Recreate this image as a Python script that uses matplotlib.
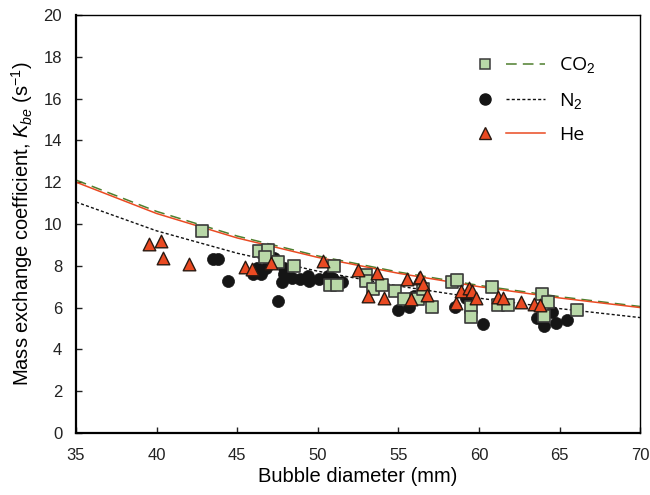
import matplotlib
matplotlib.use("Agg")
import matplotlib.pyplot as plt
from matplotlib.lines import Line2D
from matplotlib.legend_handler import HandlerTuple

plt.rcParams["font.family"] = ["Liberation Sans", "DejaVu Sans"]
plt.rcParams["mathtext.fontset"] = "custom"
plt.rcParams["mathtext.rm"] = "Liberation Sans"
plt.rcParams["mathtext.it"] = "Liberation Sans:italic"

# Measured mass exchange coefficients (bubble diameter in mm, K_be in 1/s)
co2_d = [42.8, 46.35, 46.9, 46.7, 47.5, 48.5, 51.0, 50.75, 51.2, 53.0, 53.0,
         53.45, 54.0, 54.8, 55.35, 56.2, 56.5, 57.1, 58.3, 58.65, 59.5, 59.5,
         60.8, 61.2, 61.8, 63.9, 64.3, 64.0, 66.1]
co2_k = [9.65, 8.7, 8.75, 8.4, 8.2, 8.0, 8.0, 7.1, 7.1, 7.55, 7.25,
         6.9, 7.1, 6.8, 6.4, 6.4, 6.9, 6.05, 7.2, 7.3, 6.05, 5.55,
         7.0, 6.1, 6.1, 6.65, 6.25, 5.6, 5.9]

n2_d = [43.5, 43.8, 44.4, 46.25, 45.95, 46.45, 46.8, 47.3, 47.9, 47.9, 47.8,
        48.4, 48.9, 49.4, 49.45, 50.1, 50.6, 50.9, 51.0, 51.5, 47.5, 55.0,
        55.65, 55.95, 58.5, 59.2, 60.25, 63.6, 64.05, 64.5, 64.8, 65.45]
n2_k = [8.3, 8.3, 7.25, 7.9, 7.6, 7.6, 7.9, 8.35, 7.9, 7.6, 7.2,
        7.4, 7.35, 7.5, 7.25, 7.35, 7.5, 7.4, 7.3, 7.2, 6.3, 5.9,
        6.05, 6.55, 6.05, 6.45, 5.2, 5.5, 5.1, 5.8, 5.25, 5.4]

he_d = [39.5, 40.3, 40.4, 42.0, 45.5, 45.9, 47.1, 50.3, 52.5, 53.7, 55.5,
        56.3, 53.1, 54.1, 55.8, 56.35, 56.5, 56.8, 58.55, 58.85, 59.4, 59.55,
        59.8, 61.2, 61.5, 62.6, 63.4, 63.8]
he_k = [9.05, 9.2, 8.35, 8.1, 7.95, 7.85, 8.15, 8.25, 7.8, 7.65, 7.35,
        7.4, 6.55, 6.45, 6.4, 7.45, 7.15, 6.6, 6.2, 6.8, 6.95, 6.8,
        6.45, 6.5, 6.45, 6.25, 6.15, 6.1]

# Model predictions
model_d = [35, 40, 45, 50, 55, 60, 65, 70]
co2_model = [12.1, 10.6, 9.42, 8.47, 7.7, 7.06, 6.52, 6.05]
n2_model = [11.05, 9.67, 8.6, 7.74, 7.03, 6.45, 5.95, 5.52]
he_model = [12.0, 10.5, 9.33, 8.4, 7.64, 7.0, 6.46, 6.0]

x_ticks = [35, 40, 45, 50, 55, 60, 65, 70]
y_ticks = [0, 2, 4, 6, 8, 10, 12, 14, 16, 18, 20]

green_face = "#b9d8a8"
green_line = "#4e7f2e"
red = "#ea4a22"

fig = plt.figure(figsize=(6.5, 4.95), dpi=100)
ax = fig.add_axes([0.117, 0.1253, 0.868, 0.8445])

ax.plot(model_d, co2_model, color=green_line, lw=1.1, ls=(0, (7, 4)), zorder=2)
ax.plot(model_d, he_model, color=red, lw=1.1, ls="-", zorder=2)
ax.plot(model_d, n2_model, color="#111111", lw=1.0, ls=(0, (2.2, 1.6)), zorder=2)

ax.scatter(n2_d, n2_k, s=75, marker="o", color="#151515", edgecolors="#151515",
           linewidths=0.5, zorder=3)
ax.scatter(co2_d, co2_k, s=72, marker="s", color=green_face, edgecolors="#3a3a3a",
           linewidths=1.2, zorder=4)
ax.scatter(he_d, he_k, s=82, marker="^", color=red, edgecolors="#2a1a12",
           linewidths=1.0, zorder=5)

ax.set_xlim(35, 70)
ax.set_ylim(0, 20)
ax.set_xticks(x_ticks)
ax.set_yticks(y_ticks)
ax.tick_params(direction="in", length=4, width=1, labelsize=12,
               top=False, right=False, colors="#222222")
ax.tick_params(axis="x", pad=11)
ax.tick_params(axis="y", pad=10)
for side in ["left", "bottom"]:
    ax.spines[side].set_linewidth(1.6)
for side in ["top", "right"]:
    ax.spines[side].set_linewidth(1.0)

ax.set_xlabel("Bubble diameter (mm)", fontsize=14.5, labelpad=3)
ax.set_ylabel(r"Mass exchange coefficient, $K_{be}$ (s$^{\mathrm{-1}}$)",
              fontsize=14.5, labelpad=6)

h_co2 = (Line2D([], [], ls="none", marker="s", ms=7.5, mfc=green_face, mec="#3a3a3a", mew=1.1),
         Line2D([], [], color=green_line, lw=1.1, ls=(0, (7, 4))))
h_n2 = (Line2D([], [], ls="none", marker="o", ms=8, mfc="#151515", mec="#151515"),
        Line2D([], [], color="#111111", lw=1.0, ls=(0, (2.2, 1.6))))
h_he = (Line2D([], [], ls="none", marker="^", ms=8, mfc=red, mec="#2a1a12", mew=1.0),
        Line2D([], [], color=red, lw=1.1))
leg = ax.legend([h_co2, h_n2, h_he], ["CO$_2$", "N$_2$", "He"],
                handler_map={tuple: HandlerTuple(ndivide=2, pad=0.1)},
                handlelength=4.1, handletextpad=0.7, labelspacing=0.78,
                frameon=False, loc="upper left", borderpad=0, borderaxespad=0,
                bbox_to_anchor=(0.69, 0.903),
                prop={"family": ["Open Sans", "DejaVu Sans"], "size": 14})

fig.savefig("out.png", dpi=100)
